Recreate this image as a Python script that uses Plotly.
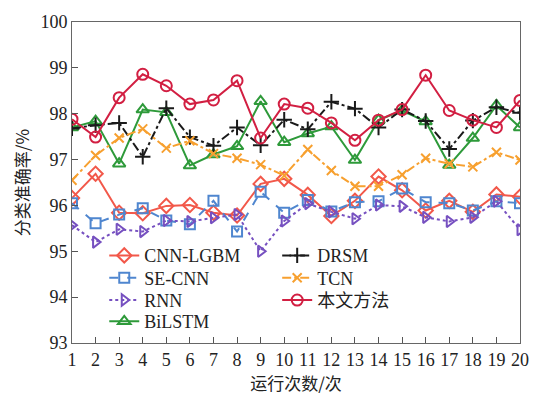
import plotly.graph_objects as go

runs = list(range(1, 21))
cnn_lgbm = [96.16, 96.69, 95.84, 95.83, 95.99, 96.01, 95.84, 95.78, 96.47, 96.58,
            96.23, 95.77, 96.10, 96.63, 96.33, 95.89, 96.10, 95.86, 96.24, 96.19]
se_cnn = [96.05, 95.61, 95.80, 95.94, 95.67, 95.59, 96.10, 95.43, 96.30, 95.84,
          96.12, 95.87, 96.07, 96.09, 96.37, 96.07, 96.05, 95.89, 96.09, 96.05]
rnn = [95.57, 95.20, 95.48, 95.43, 95.67, 95.65, 95.73, 95.80, 95.00, 95.66,
       96.04, 95.86, 95.71, 96.01, 95.98, 95.74, 95.65, 95.74, 96.09, 95.47]
bilstm = [97.70, 97.84, 96.91, 98.09, 98.03, 96.87, 97.11, 97.29, 98.27, 97.38,
          97.57, 97.72, 96.99, 97.86, 98.07, 97.83, 96.88, 97.47, 98.18, 97.70]
drsm = [97.68, 97.75, 97.80, 97.06, 98.12, 97.49, 97.30, 97.70, 97.31, 97.87,
        97.66, 98.26, 98.11, 97.70, 98.09, 97.84, 97.23, 97.85, 98.14, 98.02]
tcn = [96.55, 97.09, 97.47, 97.67, 97.25, 97.41, 97.13, 97.03, 96.89, 96.65,
       97.22, 96.76, 96.42, 96.42, 96.67, 97.03, 96.91, 96.84, 97.16, 96.99]
ours = [97.88, 97.49, 98.35, 98.86, 98.61, 98.21, 98.30, 98.72, 97.47, 98.21,
        98.12, 97.80, 97.42, 97.86, 98.09, 98.84, 98.07, 97.86, 97.70, 98.29]

x_ticks = [str(i) for i in runs]

series = [
    ("CNN-LGBM", cnn_lgbm, "#F2584A", "solid", "diamond-open", 11),
    ("SE-CNN", se_cnn, "#4F86CF", "dash", "square-open", 10),
    ("RNN", rnn, "#7650C0", "dot", "triangle-right-open", 10),
    ("BiLSTM", bilstm, "#2E9A3A", "solid", "triangle-up-open", 11),
    ("DRSM", drsm, "#1A1A1A", "dashdot", "cross-thin-open", 11),
    ("TCN", tcn, "#F7A02F", "dashdot", "x-thin-open", 9),
    ("本文方法", ours, "#D21F42", "solid", "circle-open", 11),
]

# legend slot positions (column, row)
slots = [(0, 0), (0, 1), (0, 2), (0, 3), (1, 0), (1, 1), (1, 2)]
col_x = [0.072, 0.458]
row_px = [257, 280, 303, 325]

font_main = "Liberation Serif, Noto Sans CJK SC, serif"

fig = go.Figure()
legend_layout = {}
for k, ((name, vals, color, dash, sym, msize), (c, r)) in enumerate(zip(series, slots)):
    lg = "legend" if k == 0 else f"legend{k+1}"
    fig.add_trace(go.Scatter(
        x=runs, y=vals, name=name, mode="lines+markers",
        line=dict(color=color, width=2, dash=dash),
        marker=dict(symbol=sym, size=msize, color=color,
                    line=dict(color=color, width=2)),
        legend=lg,
    ))
    legend_layout[lg] = dict(
        x=col_x[c], y=(347 - row_px[r]) / 331, xanchor="left", yanchor="middle",
        bgcolor="rgba(0,0,0,0)",
        font=dict(family=font_main, size=18, color="#222"),
        itemwidth=30,
    )

fig.update_layout(
    width=548, height=397,
    margin=dict(l=72, r=28, t=16, b=50),
    paper_bgcolor="white", plot_bgcolor="white",
    font=dict(family=font_main, size=18, color="#222"),
    showlegend=True,
    xaxis=dict(
        range=[1, 20], tickmode="array", tickvals=runs, ticktext=x_ticks,
        ticks="inside", ticklen=6, tickcolor="#555",
        showline=True, linecolor="#666", linewidth=1, mirror=True,
        showgrid=False, zeroline=False,
        title=dict(text="运行次数/次", font=dict(family="Noto Sans CJK SC", size=17, color="#222"),
                   standoff=4),
        tickfont=dict(family=font_main, size=18, color="#222"),
    ),
    yaxis=dict(
        range=[93, 100], dtick=1,
        ticks="inside", ticklen=6, tickcolor="#555",
        showline=True, linecolor="#666", linewidth=1, mirror=True,
        showgrid=False, zeroline=False,
        title=dict(text="分类准确率/%", font=dict(family="Noto Sans CJK SC", size=17, color="#222"),
                   standoff=6),
        tickfont=dict(family=font_main, size=18, color="#222"),
    ),
    **legend_layout,
)

fig.write_html("out.html")
